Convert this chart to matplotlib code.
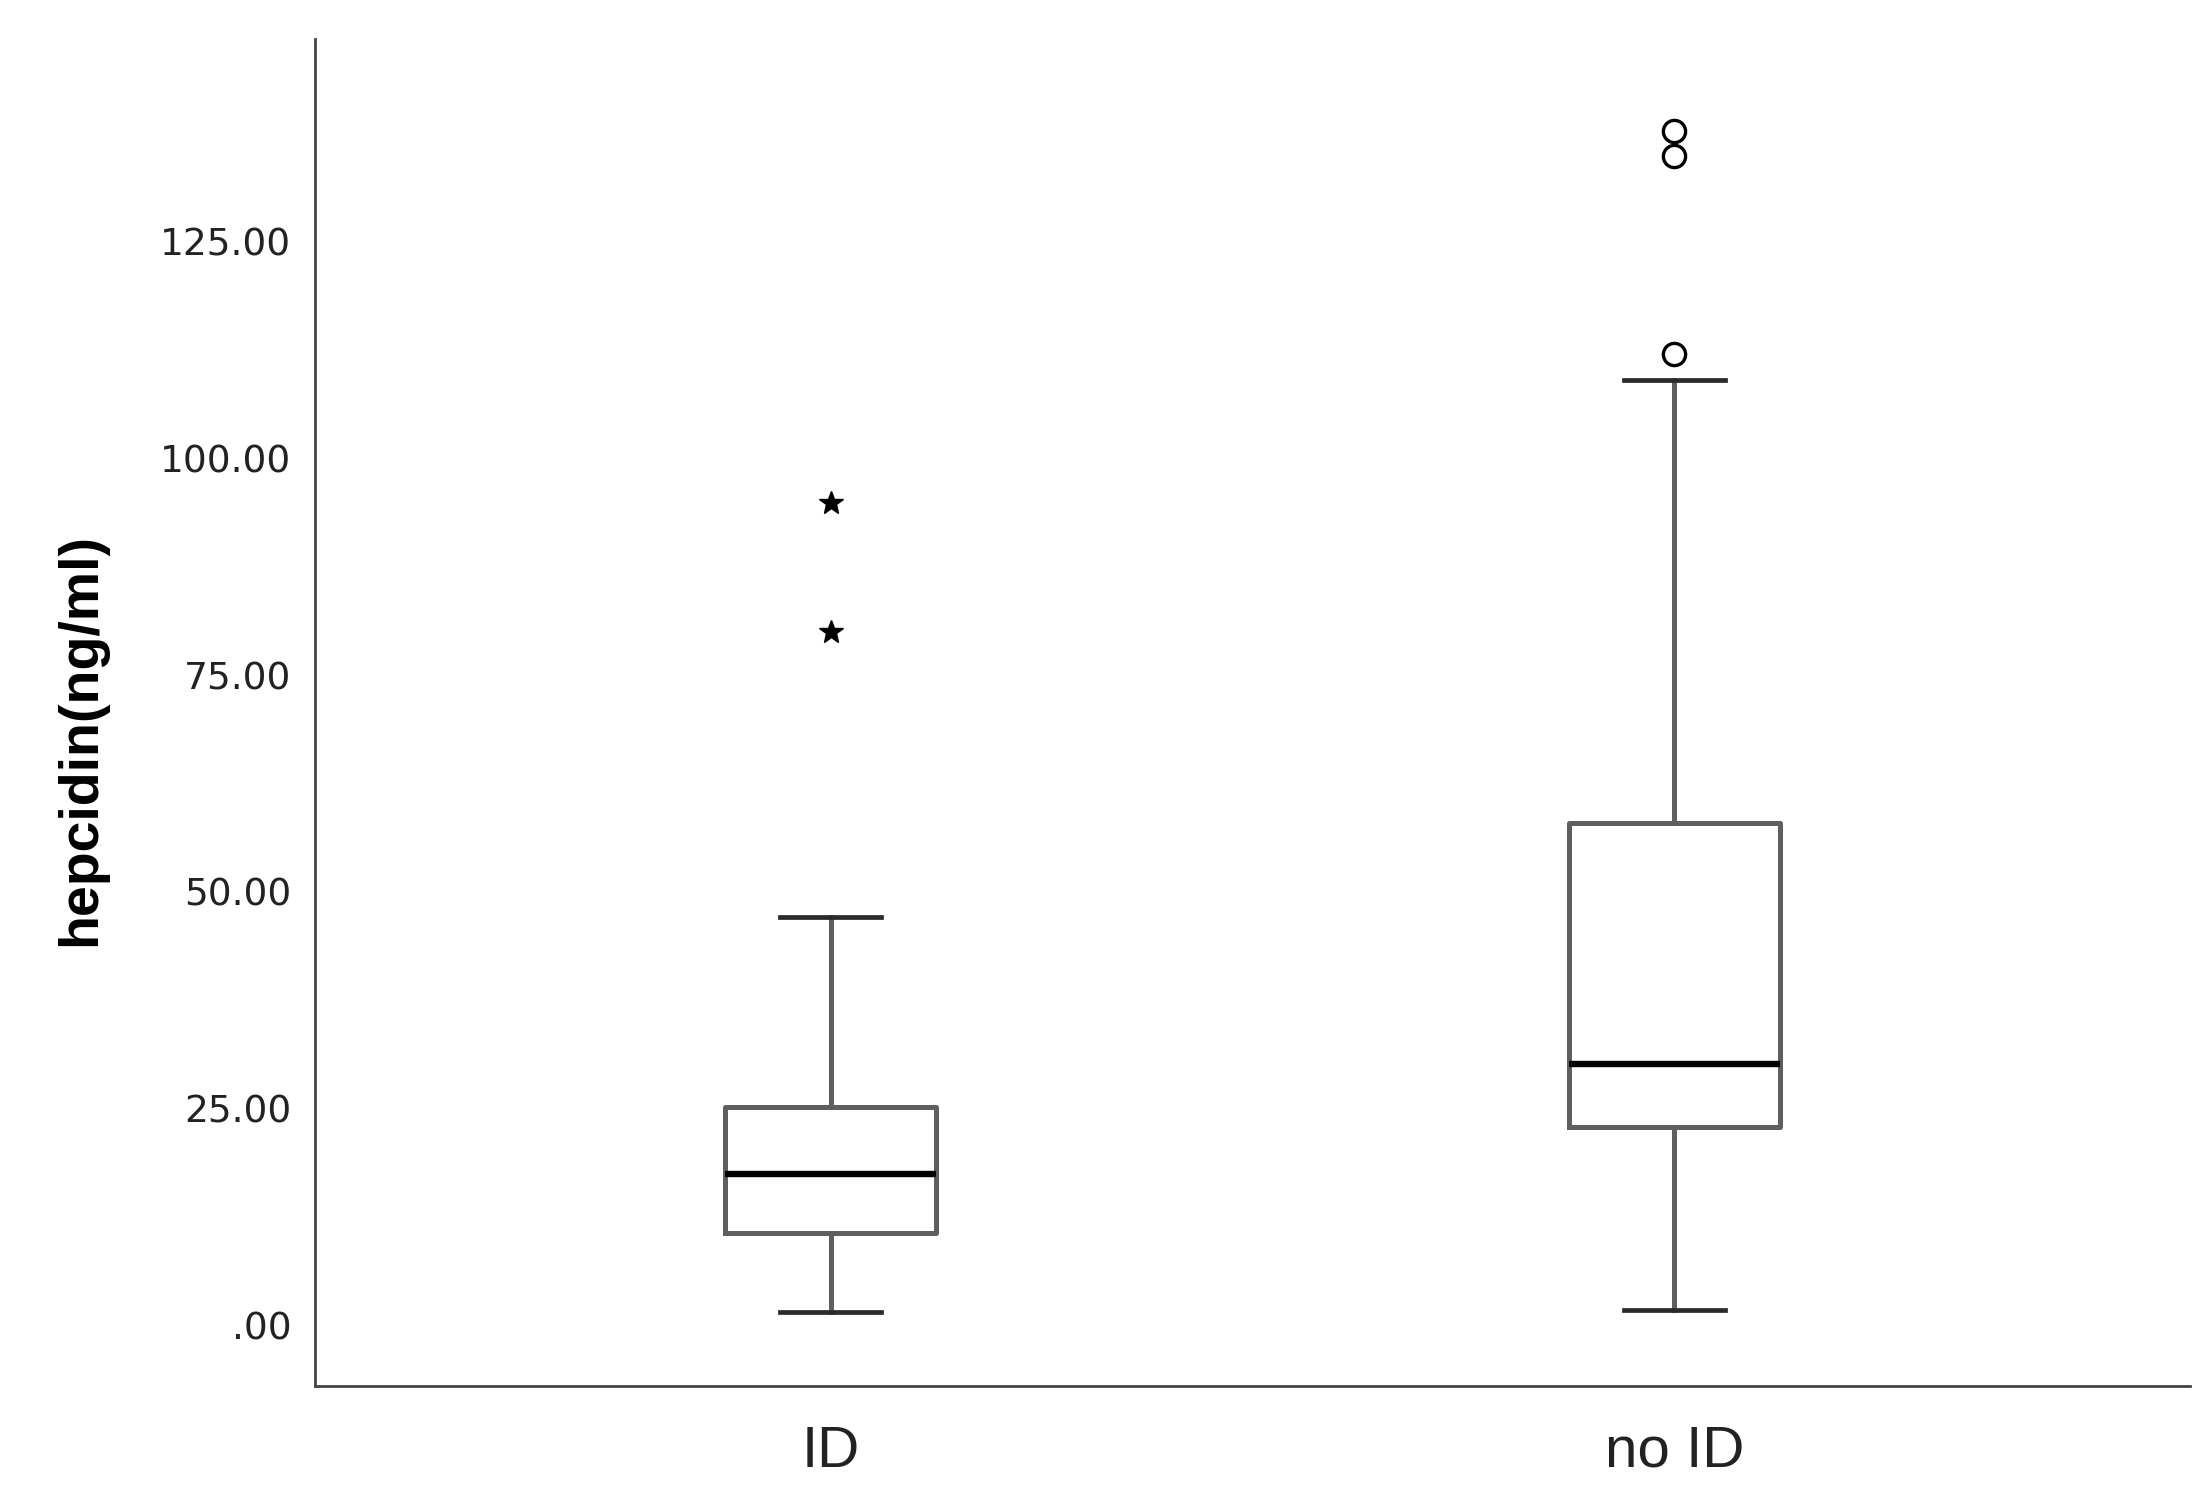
import matplotlib
matplotlib.use("Agg")
import matplotlib.pyplot as plt
import numpy as np

# box statistics (hepcidin, ng/ml)
groups = ["ID", "no ID"]
whislo = [1.5, 1.8]
q1 = [10.7, 22.9]
med = [17.4, 30.1]
q3 = [25.2, 57.9]
whishi = [47.1, 109.0]
# mild outliers (circles) and extreme outliers (stars)
mild_out = [[], [112.0, 134.9, 137.8]]
extreme_out = [[80.0, 94.9], []]

yticks = [0, 25, 50, 75, 100, 125]
ytick_labels = [".00", "25.00", "50.00", "75.00", "100.00", "125.00"]

box_col = "#5f5f5f"

fig = plt.figure(figsize=(22.08, 14.95), dpi=100)
ax = fig.add_axes([0.1427, 0.0729, 0.8491, 0.9011])

stats = []
for i in range(len(groups)):
    stats.append(dict(label=groups[i], whislo=whislo[i], q1=q1[i], med=med[i],
                      q3=q3[i], whishi=whishi[i], fliers=[]))

pos = np.arange(1, len(groups) + 1)
ax.bxp(stats, positions=pos, widths=0.25, showfliers=False,
       boxprops=dict(color=box_col, linewidth=3.6),
       whiskerprops=dict(color=box_col, linewidth=3.6),
       capprops=dict(color="#2a2a2a", linewidth=3.4),
       medianprops=dict(color="black", linewidth=4.6),
       capwidths=0.12)

for i in range(len(groups)):
    if mild_out[i]:
        ax.plot([pos[i]] * len(mild_out[i]), mild_out[i], linestyle="none",
                marker="o", markersize=16, markerfacecolor="white",
                markeredgecolor="black", markeredgewidth=2.4)
    if extreme_out[i]:
        ax.plot([pos[i]] * len(extreme_out[i]), extreme_out[i], linestyle="none",
                marker="*", markersize=18, color="black")

ax.set_xlim(0.389, 2.611)
ax.set_ylim(-7.0, 148.4)
ax.set_yticks(yticks)
ax.set_yticklabels(ytick_labels, fontsize=27, family="DejaVu Sans", color="#222222")
ax.set_xticks(pos)
ax.set_xticklabels(groups, fontsize=42, family="Liberation Sans", color="#222222")
ax.tick_params(axis="y", length=0, pad=17)
ax.tick_params(axis="x", length=0, pad=28)

for s in ["top", "right"]:
    ax.spines[s].set_visible(False)
for s in ["left", "bottom"]:
    ax.spines[s].set_color("#444444")
    ax.spines[s].set_linewidth(2.0)

ax.text(-0.125, 0.48, "hepcidin(ng/ml)", transform=ax.transAxes, rotation=90,
        ha="center", va="center", fontsize=40, fontweight="bold",
        family="Liberation Sans")

fig.savefig("out.png", dpi=100, facecolor="white")
